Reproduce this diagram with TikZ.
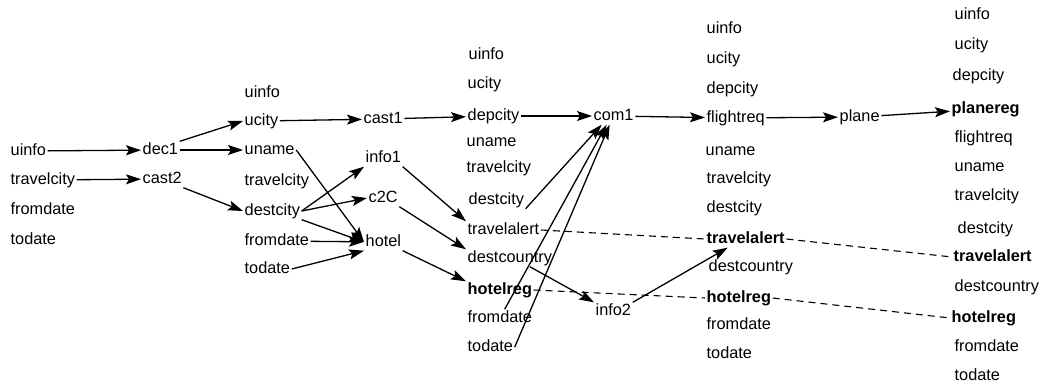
\documentclass[tikz,border=0pt]{standalone}
\usepackage{fontspec}
\setmainfont{Liberation Sans}
\usetikzlibrary{arrows.meta}
\begin{document}
\begin{tikzpicture}[x=1pt,y=-1pt,
  lbl/.style={anchor=west,inner sep=1.5pt,text height=11pt,text depth=3pt,
    font=\fontsize{16.3}{19}\selectfont},
  blbl/.style={lbl,font=\fontsize{16.3}{19}\selectfont\bfseries},
  flow/.style={line width=1.3pt,-{Stealth[length=15pt,width=10pt,inset=3pt]}},
  link/.style={line width=1.1pt,dash pattern=on 7pt off 5pt}]
\useasboundingbox (0,0) rectangle (1044,386);

% input variables
\node[lbl] (a1) at (9,151) {uinfo};
\node[lbl] (a2) at (9,180) {travelcity};
\node[lbl] (a3) at (9,210) {fromdate};
\node[lbl] (a4) at (9,240) {todate};

% after dec1 / cast2
\node[lbl] (b1) at (243,93) {uinfo};
\node[lbl] (b2) at (243,121) {ucity};
\node[lbl] (b3) at (243,150) {uname};
\node[lbl] (b4) at (243,181) {travelcity};
\node[lbl] (b5) at (243,211) {destcity};
\node[lbl] (b6) at (243,241) {fromdate};
\node[lbl] (b7) at (243,269) {todate};

% after cast1 / info1 / c2C / hotel
\node[lbl] (c1) at (467,55) {uinfo};
\node[lbl] (c2) at (466,84) {ucity};
\node[lbl] (c3) at (466,116) {depcity};
\node[lbl] (c4) at (465,142) {uname};
\node[lbl] (c5) at (465,168) {travelcity};
\node[lbl] (c6) at (467,200) {destcity};
\node[lbl] (c7) at (466,230) {travelalert};
\node[lbl] (c8) at (466,258) {destcountry};
\node[blbl] (c9) at (466,290) {hotelreg};
\node[lbl] (c10) at (466,318) {fromdate};
\node[lbl] (c11) at (466,347) {todate};

% after com1 / info2
\node[lbl] (d1) at (705,29) {uinfo};
\node[lbl] (d2) at (705,59) {ucity};
\node[lbl] (d3) at (705,89) {depcity};
\node[lbl] (d4) at (705,118) {flightreq};
\node[lbl] (d5) at (704,151) {uname};
\node[lbl] (d6) at (705,179) {travelcity};
\node[lbl] (d7) at (705,208) {destcity};
\node[blbl] (d8) at (705,239) {travelalert};
\node[lbl] (d9) at (707,267) {destcountry};
\node[blbl] (d10) at (705,298) {hotelreg};
\node[lbl] (d11) at (705,325) {fromdate};
\node[lbl] (d12) at (705,354) {todate};

% after plane
\node[lbl] (e1) at (953,15) {uinfo};
\node[lbl] (e2) at (953,45) {ucity};
\node[lbl] (e3) at (951,76) {depcity};
\node[blbl] (e4) at (950,109) {planereg};
\node[lbl] (e5) at (953,138) {flightreq};
\node[lbl] (e6) at (953,167) {uname};
\node[lbl] (e7) at (953,196) {travelcity};
\node[lbl] (e8) at (956,229) {destcity};
\node[blbl] (e9) at (952,257) {travelalert};
\node[lbl] (e10) at (953,287) {destcountry};
\node[blbl] (e11) at (950,318) {hotelreg};
\node[lbl] (e12) at (953,347) {fromdate};
\node[lbl] (e13) at (953,376) {todate};

% operations
\node[lbl] (dec1) at (141,150) {dec1};
\node[lbl] (cast2) at (141,179) {cast2};
\node[lbl] (cast1) at (362,119) {cast1};
\node[lbl] (info1) at (364,158) {info1};
\node[lbl] (c2C) at (367,198) {c2C};
\node[lbl] (hotel) at (364,242) {hotel};
\node[lbl] (com1) at (592,116) {com1};
\node[lbl] (info2) at (594,311) {info2};
\node[lbl] (plane) at (838,117) {plane};

% data flow
\draw[flow] (a1) -- (dec1);
\draw[flow] (a2) -- (cast2);
\draw[flow] (dec1.north east) -- (b2.west);
\draw[flow] (dec1) -- (b3);
\draw[flow] (cast2.south east) -- (b5.west);
\draw[flow] (b2) -- (cast1);
\draw[flow] (b3.east) -- (hotel.west);
\draw[flow] (b5.east) -- (info1.south west);
\draw[flow] (b5.east) -- (c2C.west);
\draw[flow] (b5.south east) -- (hotel.west);
\draw[flow] (b6) -- (hotel);
\draw[flow] (b7.east) -- (hotel.south west);
\draw[flow] (cast1) -- (c3);
\draw[flow] (info1.south east) -- (c7.north west);
\draw[flow] (c2C.south east) -- (c8.north west);
\draw[flow] (hotel.south east) -- (c9.north west);
\draw[flow] (c3) -- (com1);
\draw[flow] (c6.south east) -- ([xshift=-12pt]com1.south);
\draw[flow] (c10) -- ([xshift=-7pt]com1.south);
\draw[flow] (c11.east) -- ([xshift=-4pt]com1.south);
\draw[flow] ([xshift=20pt]c8.south) -- (info2.north west);
\draw[flow] (info2.north east) -- ([xshift=-18pt]d8.south);
\draw[flow] (com1) -- (d4);
\draw[flow] (d4) -- (plane);
\draw[flow] (plane) -- (e4);

% registrations carried forward
\draw[link] (c7.east) -- (d8.west);
\draw[link] (d8.east) -- (e9.west);
\draw[link] (c9.east) -- (d10.west);
\draw[link] (d10.east) -- (e11.west);
\end{tikzpicture}
\end{document}
